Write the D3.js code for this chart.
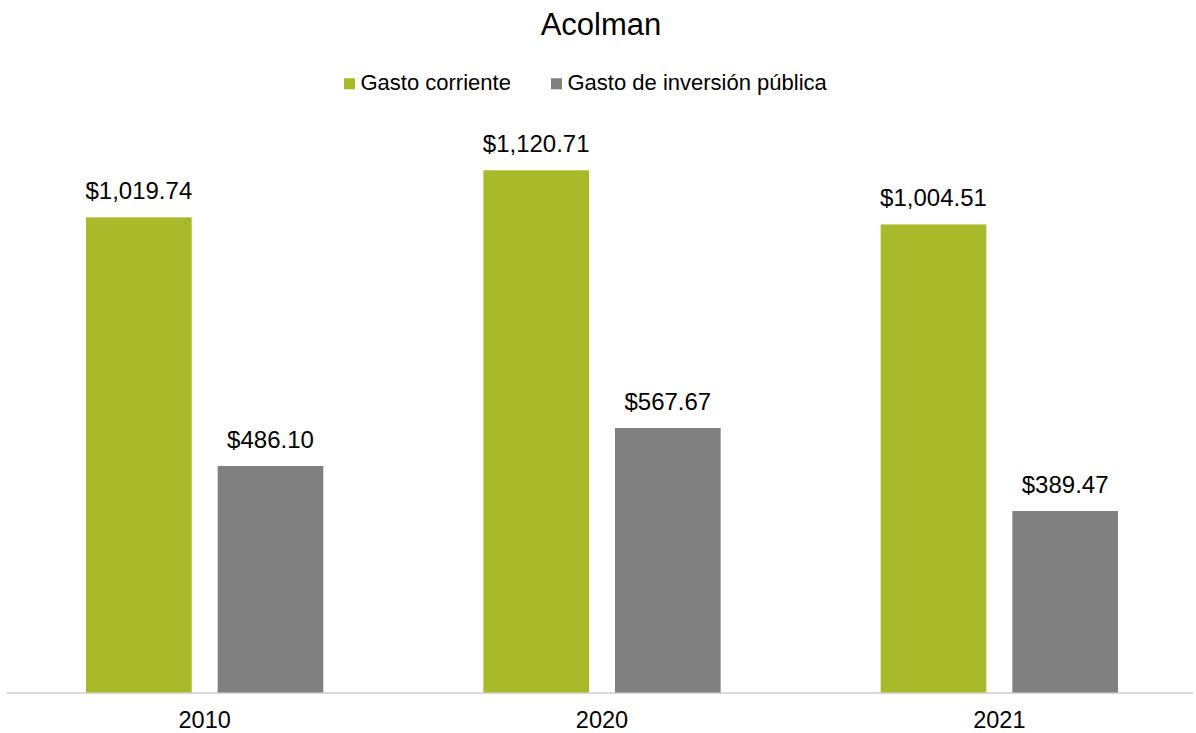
<!DOCTYPE html>
<html>
<head>
<meta charset="utf-8">
<script src="https://cdn.jsdelivr.net/npm/d3@7"></script>
<style>
  html, body { margin: 0; padding: 0; background: #fff; }
  svg { display: block; font-family: "Liberation Sans", Arial, sans-serif; }
</style>
</head>
<body>
<svg id="chart" width="1196" height="733"></svg>
<script>
const title = "Acolman";
const categories = ["2010", "2020", "2021"];
const seriesNames = ["Gasto corriente", "Gasto de inversión pública"];
const gastoCorriente = [1019.74, 1120.71, 1004.51];
const gastoInversion = [486.10, 567.67, 389.47];
const seriesColors = ["#A8B92A", "#808080"];

const W = 1196, H = 733;
const svg = d3.select("#chart");

const baseline = 692.5;
const x0 = d3.scaleBand().domain(categories).range([6, 1198]).paddingInner(0).paddingOuter(0);
const groupW = 237.3;
const x1 = d3.scaleBand().domain(seriesNames).range([0, groupW]).paddingInner(0.1976).paddingOuter(0);
const y = d3.scaleLinear().domain([0, 1120.71]).range([baseline, 170.3]);

const fmt = v => "$" + d3.format(",.2f")(v);

// title
svg.append("text")
  .attr("x", 601).attr("y", 35)
  .attr("text-anchor", "middle")
  .attr("font-size", 31)
  .attr("fill", "#000")
  .text(title);

// legend
const legend = svg.append("g");
const legendItems = [
  { name: seriesNames[0], color: seriesColors[0], x: 344 },
  { name: seriesNames[1], color: seriesColors[1], x: 551 }
];
legendItems.forEach(it => {
  legend.append("rect").attr("x", it.x).attr("y", 78.3).attr("width", 11).attr("height", 11).attr("fill", it.color);
  legend.append("text").attr("x", it.x + 16.5).attr("y", 90).attr("font-size", 22).attr("fill", "#000").text(it.name);
});

// axis line
const xAxis = d3.axisBottom(x0).tickSize(0).tickPadding(0);
const gAxis = svg.append("g").attr("transform", `translate(0,${baseline})`).call(xAxis);
gAxis.select(".domain").attr("stroke", "#D9D9D9").attr("stroke-width", 2).attr("d", "M7,0.5H1193");
gAxis.selectAll(".tick text").attr("font-size", 23.5).attr("fill", "#000").attr("font-family", "Liberation Sans, Arial, sans-serif").attr("dy", null).attr("y", 35);

const data = categories.map((c, i) => ({ cat: c, vals: [
  { name: seriesNames[0], v: gastoCorriente[i], color: seriesColors[0] },
  { name: seriesNames[1], v: gastoInversion[i], color: seriesColors[1] }
]}));

const groups = svg.append("g").selectAll("g").data(data).join("g")
  .attr("transform", d => `translate(${x0(d.cat) + (x0.bandwidth() - groupW) / 2},0)`);

groups.selectAll("rect").data(d => d.vals).join("rect")
  .attr("x", d => x1(d.name))
  .attr("width", x1.bandwidth())
  .attr("y", d => y(d.v))
  .attr("height", d => baseline - y(d.v))
  .attr("fill", d => d.color);

groups.selectAll("text.lbl").data(d => d.vals).join("text")
  .attr("class", "lbl")
  .attr("x", d => x1(d.name) + x1.bandwidth() / 2)
  .attr("y", d => y(d.v) - 18)
  .attr("text-anchor", "middle")
  .attr("font-size", 24)
  .attr("fill", "#000")
  .text(d => fmt(d.v));
</script>
</body>
</html>
